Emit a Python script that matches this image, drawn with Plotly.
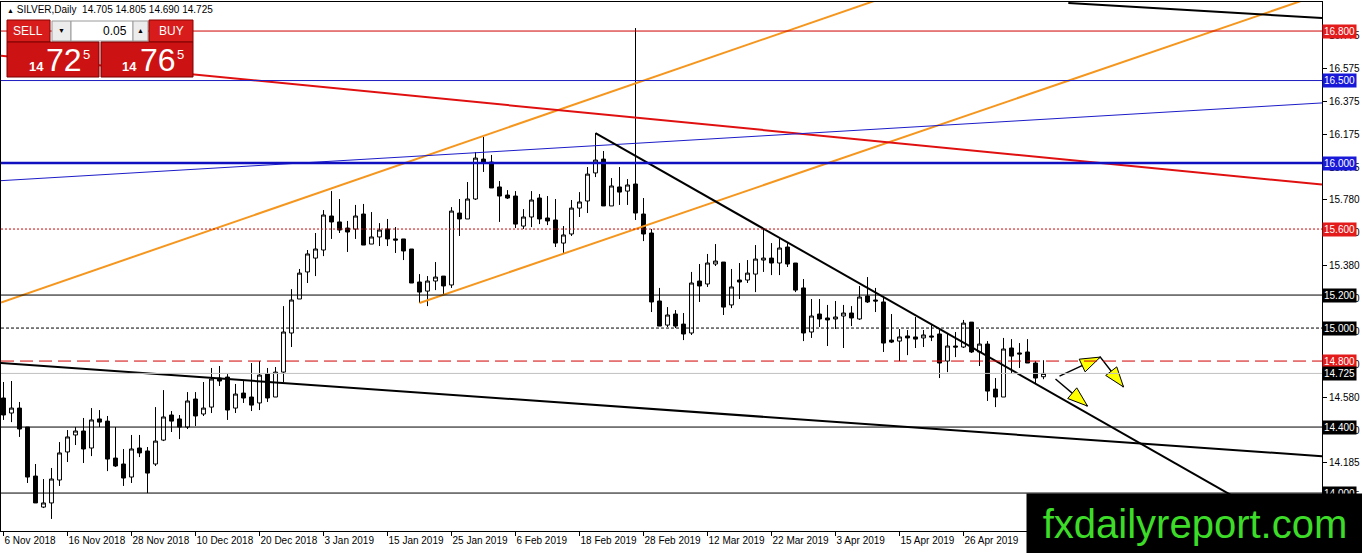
import plotly.graph_objects as go

# SILVER daily bars, 6 Nov 2018 onwards
opens = [14.576, 14.485, 14.515, 14.400, 14.103, 13.915, 13.940, 14.079, 14.249, 14.352,
         14.376, 14.273, 14.449, 14.436, 14.212, 14.176, 14.097, 14.273, 14.255, 14.176,
         14.321, 14.473, 14.449, 14.400, 14.570, 14.479, 14.521, 14.697, 14.703, 14.515,
         14.606, 14.582, 14.546, 14.721, 14.582, 14.733, 14.970, 15.176, 15.340, 15.424,
         15.473, 15.679, 15.643, 15.606, 15.600, 15.691, 15.509, 15.552, 15.600, 15.540,
         15.540, 15.479, 15.279, 15.224, 15.285, 15.315, 15.261, 15.697, 15.661, 15.782,
         16.024, 16.006, 15.855, 15.806, 15.800, 15.618, 15.673, 15.788, 15.667, 15.655,
         15.515, 15.570, 15.727, 15.770, 15.940, 16.024, 15.740, 15.855, 15.830, 15.873,
         15.691, 15.576, 15.164, 15.018, 15.085, 15.024, 14.970, 15.285, 15.267, 15.388,
         15.400, 15.140, 15.291, 15.291, 15.327, 15.412, 15.424, 15.394, 15.491, 15.394,
         15.243, 14.976, 15.085, 15.061, 15.055, 15.073, 15.091, 15.055, 15.194, 15.170,
         15.158, 14.927, 14.921, 14.952, 14.946, 14.940, 14.952, 14.964, 14.800, 14.891,
         14.885, 15.036, 14.855, 14.903, 14.630, 14.582, 14.879, 14.849, 14.855, 14.788,
         14.705]
highs = [14.673, 14.679, 14.552, 14.400, 14.176, 14.085, 14.152, 14.309, 14.382, 14.400,
         14.455, 14.515, 14.503, 14.467, 14.400, 14.267, 14.352, 14.352, 14.279, 14.521,
         14.624, 14.497, 14.473, 14.612, 14.612, 14.673, 14.758, 14.770, 14.721, 14.661,
         14.679, 14.788, 14.800, 14.758, 14.764, 15.133, 15.236, 15.358, 15.473, 15.576,
         15.715, 15.830, 15.782, 15.649, 15.746, 15.752, 15.703, 15.636, 15.661, 15.612,
         15.540, 15.479, 15.327, 15.315, 15.400, 15.315, 15.733, 15.782, 15.885, 16.067,
         16.158, 16.049, 15.891, 15.836, 15.830, 15.721, 15.830, 15.812, 15.800, 15.782,
         15.618, 15.776, 15.824, 15.976, 16.182, 16.073, 15.909, 15.976, 15.903, 16.818,
         15.788, 15.600, 15.243, 15.127, 15.109, 15.091, 15.340, 15.388, 15.449, 15.509,
         15.400, 15.358, 15.394, 15.412, 15.503, 15.606, 15.515, 15.540, 15.515, 15.394,
         15.297, 15.176, 15.176, 15.140, 15.164, 15.140, 15.133, 15.255, 15.309, 15.243,
         15.188, 15.085, 14.994, 14.988, 15.067, 14.988, 15.018, 14.988, 14.964, 14.976,
         15.049, 15.036, 14.994, 14.921, 14.697, 14.940, 14.933, 14.909, 14.933, 14.800,
         14.805]
lows = [14.443, 14.430, 14.340, 14.061, 13.940, 13.909, 13.843, 14.043, 14.188, 14.291,
        14.182, 14.224, 14.400, 14.133, 14.158, 14.043, 14.061, 14.218, 14.000, 14.164,
        14.315, 14.370, 14.327, 14.388, 14.406, 14.467, 14.485, 14.649, 14.443, 14.485,
        14.546, 14.497, 14.503, 14.552, 14.582, 14.673, 14.885, 15.176, 15.273, 15.315,
        15.436, 15.540, 15.576, 15.461, 15.540, 15.503, 15.509, 15.497, 15.497, 15.455,
        15.412, 15.273, 15.152, 15.133, 15.230, 15.206, 15.243, 15.558, 15.661, 15.776,
        15.946, 15.849, 15.643, 15.782, 15.606, 15.600, 15.612, 15.630, 15.624, 15.491,
        15.455, 15.558, 15.673, 15.697, 15.915, 15.740, 15.740, 15.746, 15.746, 15.655,
        15.527, 15.097, 15.012, 15.006, 15.000, 14.927, 14.958, 15.158, 15.249, 15.376,
        15.079, 15.121, 15.176, 15.273, 15.218, 15.340, 15.321, 15.321, 15.370, 15.218,
        14.921, 14.940, 15.006, 14.891, 14.994, 14.879, 15.012, 15.049, 15.152, 15.097,
        14.855, 14.909, 14.800, 14.836, 14.879, 14.885, 14.921, 14.697, 14.733, 14.824,
        14.879, 14.849, 14.770, 14.558, 14.521, 14.582, 14.727, 14.758, 14.788, 14.667,
        14.690]
closes = [14.473, 14.515, 14.388, 14.097, 13.940, 13.940, 14.085, 14.243, 14.340, 14.376,
          14.267, 14.443, 14.430, 14.206, 14.164, 14.091, 14.267, 14.243, 14.121, 14.315,
          14.461, 14.436, 14.400, 14.558, 14.467, 14.515, 14.691, 14.679, 14.503, 14.600,
          14.576, 14.533, 14.715, 14.576, 14.733, 14.976, 15.170, 15.333, 15.449, 15.479,
          15.685, 15.643, 15.594, 15.582, 15.679, 15.503, 15.552, 15.594, 15.540, 15.533,
          15.467, 15.273, 15.218, 15.285, 15.309, 15.255, 15.709, 15.661, 15.782, 16.030,
          16.006, 15.849, 15.800, 15.788, 15.630, 15.673, 15.776, 15.661, 15.649, 15.515,
          15.564, 15.727, 15.764, 15.933, 16.018, 15.740, 15.861, 15.824, 15.867, 15.697,
          15.570, 15.158, 15.012, 15.079, 15.012, 14.964, 15.273, 15.255, 15.394, 15.406,
          15.127, 15.249, 15.279, 15.333, 15.418, 15.424, 15.394, 15.485, 15.388, 15.230,
          14.970, 15.073, 15.055, 15.049, 15.067, 15.091, 15.061, 15.188, 15.158, 15.164,
          14.909, 14.915, 14.946, 14.940, 14.933, 14.958, 14.946, 14.788, 14.891, 14.885,
          15.030, 14.855, 14.903, 14.618, 14.582, 14.873, 14.830, 14.843, 14.788, 14.697,
          14.725]

date_labels = ["6 Nov 2018", "16 Nov 2018", "28 Nov 2018", "10 Dec 2018", "20 Dec 2018",
               "3 Jan 2019", "15 Jan 2019", "25 Jan 2019", "6 Feb 2019", "18 Feb 2019",
               "28 Feb 2019", "12 Mar 2019", "22 Mar 2019", "3 Apr 2019", "15 Apr 2019",
               "26 Apr 2019"]
date_label_bars = [0, 8, 16, 24, 32, 40, 48, 56, 64, 72, 80, 88, 96, 104, 112, 120]

price_ticks = [16.775, 16.575, 16.375, 16.175, 15.975, 15.780, 15.580, 15.380,
               15.180, 14.980, 14.780, 14.580, 14.380, 14.185, 13.985]

# horizontal levels drawn on the chart
level_prices = [16.800, 16.500, 16.000, 15.600, 15.200, 15.000, 14.800, 14.400, 14.000]
bid_price = 14.725
ask_price = 14.765
lot_size = "0.05"

# trend lines: two anchors each as (bar, price)
orange_upper = [(20.9, 15.51), (88.4, 16.64)]
orange_lower = [(52.0, 15.152), (85.9, 15.715)]
red_down = [(69.6, 16.32), (158.4, 15.90)]
blue_thin = [(63.4, 16.075), (158.4, 16.346)]
black_down = [(74.0, 16.182), (153.0, 14.000)]
black_long = [(-0.4, 14.788), (159.6, 14.241)]
black_top = [(133.1, 16.970), (164.9, 16.879)]

# hand drawn arrows (bar, price)
arrow_zigzag = [(132.0, 14.709), (137.1, 14.824), (140.0, 14.643)]
arrow_down = [(131.5, 14.691), (135.5, 14.527)]

FONT = "Liberation Sans"
FIG_W, FIG_H = 1362, 553
ML, MR, MT, MB = 1, 40, 2, 22
PLOT_W = FIG_W - ML - MR
PLOT_H = FIG_H - MT - MB
X_RANGE = [-0.3125, 164.8125]
Y_RANGE = [13.770, 16.976]
PX_BAR = PLOT_W / (X_RANGE[1] - X_RANGE[0])
PX_PRICE = PLOT_H / (Y_RANGE[1] - Y_RANGE[0])


def pxx(x):
    return (x - ML) / PLOT_W


def pxy(y):
    return 1 - (y - MT) / PLOT_H


bars = list(range(len(opens)))

fig = go.Figure()
fig.add_trace(go.Candlestick(
    x=bars, open=opens, high=highs, low=lows, close=closes,
    increasing=dict(line=dict(color="black", width=1), fillcolor="white"),
    decreasing=dict(line=dict(color="black", width=1), fillcolor="black"),
    whiskerwidth=0, hoverinfo="skip"
))

# horizontal levels
level_styles = [
    ("#d00000", 1, "solid"), ("#1c1cc0", 1, "solid"), ("#1010c0", 2.5, "solid"),
    ("#d00000", 1, "2px,2px"), ("black", 1, "solid"), ("black", 1, "3px,2px"),
    ("#d00000", 1, "13px,6px"), ("black", 1, "solid"), ("black", 1, "solid"),
]
for lv, (col, w, dash) in zip(level_prices, level_styles):
    fig.add_shape(type="line", xref="paper", x0=0, x1=1, yref="y", y0=lv, y1=lv,
                  line=dict(color=col, width=w, dash=dash))
fig.add_shape(type="line", xref="paper", x0=0, x1=1, yref="y", y0=bid_price, y1=bid_price,
              line=dict(color="#c0c0c0", width=1))


def trend(anchors, color, width, ray):
    (x1, y1), (x2, y2) = anchors
    k = (y2 - y1) / (x2 - x1)
    xs = [x1 if ray else X_RANGE[0], X_RANGE[1]]
    ys = [y1 + k * (x - x1) for x in xs]
    fig.add_trace(go.Scatter(x=xs, y=ys, mode="lines", hoverinfo="skip",
                             line=dict(color=color, width=width)))


trend(orange_upper, "#f5961e", 2, False)
trend(orange_lower, "#f5961e", 2, True)
trend(red_down, "#e01010", 2, False)
trend(blue_thin, "#1c1cc8", 1, False)
trend(black_down, "black", 2, True)
trend(black_long, "black", 2, False)
trend(black_top, "black", 2, True)


def head(a, b, length=20, half=7):
    dx = (b[0] - a[0]) * PX_BAR
    dy = (b[1] - a[1]) * PX_PRICE
    n = (dx * dx + dy * dy) ** 0.5
    ux, uy = dx / n, dy / n
    bx, by = -ux * length, -uy * length
    pts = [(0, 0), (bx - uy * half, by + ux * half), (bx + uy * half, by - ux * half), (0, 0)]
    return ([b[0] + p[0] / PX_BAR for p in pts], [b[1] + p[1] / PX_PRICE for p in pts])


for path in (arrow_zigzag, arrow_down):
    fig.add_trace(go.Scatter(x=[p[0] for p in path], y=[p[1] for p in path], mode="lines",
                             hoverinfo="skip", line=dict(color="black", width=1.5)))
    for a, b in zip(path[:-1], path[1:]):
        hx, hy = head(a, b)
        fig.add_trace(go.Scatter(x=hx, y=hy, mode="lines", fill="toself", fillcolor="#ffff00",
                                 hoverinfo="skip", line=dict(color="black", width=1)))


# one-click trading panel
def rect(x0, y0, x1, y1, fill, line):
    fig.add_shape(type="rect", xref="paper", yref="paper", layer="above",
                  x0=pxx(x0), x1=pxx(x1), y0=pxy(y0), y1=pxy(y1),
                  fillcolor=fill, line=dict(color=line, width=1))


def label(x, y, text, size, color="white", anchor="center"):
    fig.add_annotation(xref="paper", yref="paper", x=pxx(x), y=pxy(y), text=text,
                       showarrow=False, xanchor=anchor, yanchor="middle",
                       font=dict(family=FONT, size=size, color=color))


rect(7, 20, 50, 42, "#d81c1c", "#8a0000")
rect(52, 21, 71, 41, "#ececec", "#9a9a9a")
rect(71, 21, 133, 41, "white", "#9a9a9a")
rect(133, 21, 148, 41, "#ececec", "#9a9a9a")
rect(149, 20, 193, 42, "#d81c1c", "#8a0000")
rect(7, 42, 99, 77, "#cc1212", "#7a0000")
rect(101, 42, 193, 77, "#cc1212", "#7a0000")

bid_txt = f"{bid_price:.3f}"
ask_txt = f"{ask_price:.3f}"
label(28, 31, "SELL", 12)
label(171, 31, "BUY", 12)
label(61, 31, "▼", 7, "black")
label(140, 31, "▲", 7, "black")
label(129, 31, lot_size, 12, "black", "right")
label(36, 67, "<b>" + bid_txt[:2] + "</b>", 13)
label(64, 60, bid_txt[3:5], 32)
label(86, 54, bid_txt[5], 13)
label(129, 67, "<b>" + ask_txt[:2] + "</b>", 13)
label(158, 60, ask_txt[3:5], 32)
label(180, 54, ask_txt[5], 13)

ohlc = " ".join(f"{v:.3f}" for v in (opens[-1], highs[-1], lows[-1], closes[-1]))
label(5, 9, "<span style='font-size:7px'>▲</span> SILVER,Daily  " + ohlc, 10, "black", "left")

# price boxes on the right scale
box_levels = level_prices[:7] + [bid_price] + level_prices[7:]
box_cols = ["#e31b1b", "#1818d8", "#1818d8", "#e31b1b", "black", "black", "#e31b1b",
            "black", "black", "black"]
for lv, col in zip(box_levels, box_cols):
    fig.add_annotation(xref="paper", x=1, xanchor="left", yref="y", y=lv, yanchor="middle",
                       text=f"{lv:.3f}", showarrow=False, bgcolor=col, borderpad=1,
                       font=dict(family=FONT, size=10, color="white"))

# site logo
fig.add_annotation(xref="paper", yref="paper", x=pxx(1026), y=pxy(493), xanchor="left",
                   yanchor="top", width=336, height=60, borderpad=0, bgcolor="black",
                   text="fxdailyreport.com", showarrow=False, align="center",
                   font=dict(family=FONT, size=40, color="#3ddc28"))

fig.update_layout(
    width=FIG_W, height=FIG_H,
    margin=dict(l=ML, r=MR, t=MT, b=MB),
    plot_bgcolor="white", paper_bgcolor="white",
    showlegend=False,
    font=dict(family=FONT, size=10, color="black"),
)
fig.update_xaxes(
    range=X_RANGE, rangeslider_visible=False, showgrid=False, zeroline=False,
    automargin=False, tickangle=0,
    tickvals=date_label_bars, ticktext=date_labels, ticks="outside", ticklen=4,
    tickcolor="black", ticklabelposition="outside right",
    showline=True, mirror=True, linecolor="black", linewidth=1,
    tickfont=dict(family=FONT, size=10, color="black"),
)
fig.update_yaxes(
    range=Y_RANGE, side="right", showgrid=False, zeroline=False,
    automargin=False,
    tickvals=price_ticks, ticktext=[f"{v:.3f}" for v in price_ticks],
    ticks="outside", ticklen=4, tickcolor="black",
    showline=True, mirror=True, linecolor="black", linewidth=1,
    tickfont=dict(family=FONT, size=10, color="black"),
)

# the page's default body margin would shift the chart, drop it
fig.write_html("out.html", config={"displayModeBar": False},
               post_script="document.body.style.margin='0px';")
